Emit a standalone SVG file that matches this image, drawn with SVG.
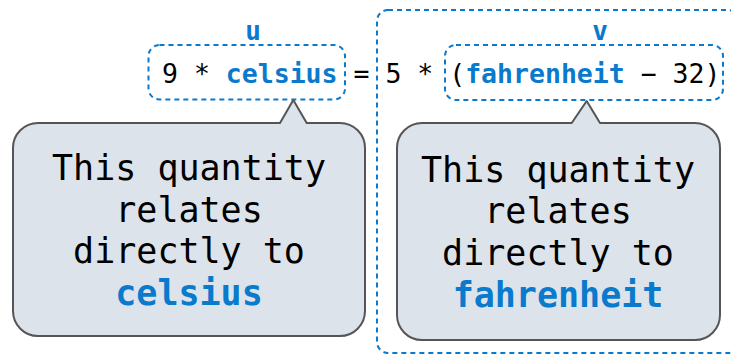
<svg xmlns="http://www.w3.org/2000/svg" width="731" height="355" viewBox="0 0 731 355">
<style>
.dash{fill:none;stroke:#0a7acc;stroke-width:2;stroke-dasharray:5 4}
.eq{font-family:"DejaVu Sans Mono",monospace;font-size:26.5px;fill:#000;white-space:pre}
.hl{font-weight:bold;fill:#0a7acc}
.lbl{font-family:"DejaVu Sans Mono",monospace;font-size:26px;font-weight:bold;fill:#0a7acc;text-anchor:middle}
.bub{fill:#dde3ea;stroke:#555;stroke-width:2;stroke-linejoin:round}
.bt{font-family:"DejaVu Sans Mono",monospace;font-size:35px;fill:#000;text-anchor:middle}
</style>
<rect fill="#fff" width="731" height="355"/>
<g id="v-outer">
<rect class="dash" x="377" y="10" width="362" height="343" rx="11"/>
</g>
<g id="equation">
<text class="eq" x="162" y="82.5" xml:space="preserve">9 * <tspan class="hl">celsius</tspan> = 5 * (<tspan class="hl">fahrenheit</tspan> − 32)</text>
</g>
<g id="u">
<rect class="dash" x="148.5" y="45" width="196.5" height="54.5" rx="11"/>
<text class="lbl" x="253" y="40">u</text>
</g>
<g id="v">
<rect class="dash" x="445" y="45" width="278" height="55" rx="11"/>
<text class="lbl" x="600" y="40">v</text>
</g>
<g id="callout-celsius">
<path class="bub" d="M38,123 H280 L293.3,100 L306.7,123 H340 A25,25 0 0 1 365,148 V311 A25,25 0 0 1 340,336 H38 A25,25 0 0 1 13,311 V148 A25,25 0 0 1 38,123 Z"/>
<text class="bt" x="189" y="180">This quantity</text>
<text class="bt" x="189" y="221.7">relates</text>
<text class="bt" x="189" y="263.3">directly to</text>
<text class="bt" x="189" y="305"><tspan class="hl">celsius</tspan></text>
</g>
<g id="callout-fahrenheit">
<path class="bub" d="M422,123 H571.7 L586.7,101 L600,123 H695 A25,25 0 0 1 720,148 V315 A25,25 0 0 1 695,340 H422 A25,25 0 0 1 397,315 V148 A25,25 0 0 1 422,123 Z"/>
<text class="bt" x="558" y="181.7">This quantity</text>
<text class="bt" x="558" y="223.3">relates</text>
<text class="bt" x="558" y="265">directly to</text>
<text class="bt" x="558" y="306.7"><tspan class="hl">fahrenheit</tspan></text>
</g>
<g id="connectors"/>
</svg>
